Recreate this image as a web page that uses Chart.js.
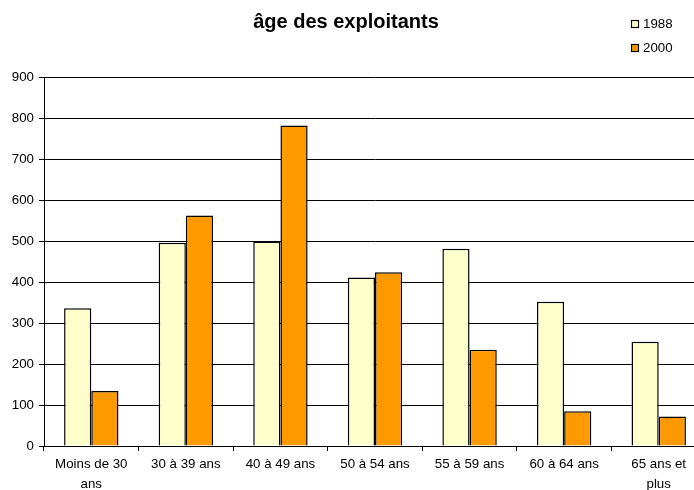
<!DOCTYPE html>
<html>
<head>
<meta charset="utf-8">
<script src="https://cdn.jsdelivr.net/npm/chart.js@4/dist/chart.umd.min.js"></script>
<style>
  html, body { margin: 0; padding: 0; background: #fff; overflow: hidden; }
  #wrap { position: relative; width: 710px; height: 490px; }
</style>
</head>
<body>
<div id="wrap"><canvas id="c" width="710" height="490"></canvas></div>
<script>
// Age groups of farm operators
const categories = [["Moins de 30", "ans"], "30 à 39 ans", "40 à 49 ans", "50 à 54 ans", "55 à 59 ans", "60 à 64 ans", ["65 ans et", "plus"]];
const seriesNames = ["1988", "2000"];
const values1988 = [336, 496, 499, 411, 481, 352, 254];
const values2000 = [134, 562, 782, 424, 235, 85, 72];
const yTicks = [0, 100, 200, 300, 400, 500, 600, 700, 800, 900];
const chartTitle = "âge des exploitants";

const FONT = "'Liberation Sans', Arial, sans-serif";

// Title and stacked legend in the upper area
const headerPlugin = {
  id: 'header',
  afterDraw(chart) {
    const ctx = chart.ctx;
    ctx.save();
    ctx.fillStyle = '#000';
    ctx.font = "bold 20px " + FONT;
    ctx.textAlign = 'center';
    ctx.textBaseline = 'middle';
    ctx.fillText(chartTitle, 346, 22);

    ctx.font = "13.3px " + FONT;
    ctx.textAlign = 'left';
    chart.data.datasets.forEach((ds, i) => {
      const y = 24 + i * 24;
      ctx.fillStyle = ds.backgroundColor;
      ctx.fillRect(631, y - 4, 8, 8);
      ctx.strokeStyle = '#000';
      ctx.lineWidth = 1.2;
      ctx.strokeRect(631.5, y - 3.5, 7, 7);
      ctx.fillStyle = '#000';
      ctx.fillText(ds.label, 643, y);
    });
    ctx.restore();
  }
};

new Chart(document.getElementById('c'), {
  type: 'bar',
  data: {
    labels: categories,
    datasets: [
      { label: seriesNames[0], data: values1988, backgroundColor: '#FFFFCC', borderColor: '#000', borderWidth: 1.5 },
      { label: seriesNames[1], data: values2000, backgroundColor: '#FF9900', borderColor: '#000', borderWidth: 1.5 }
    ]
  },
  plugins: [headerPlugin],
  options: {
    responsive: false,
    animation: false,
    devicePixelRatio: 1,
    layout: { padding: { top: 77, left: 0, right: 4, bottom: 0 } },
    datasets: { bar: { categoryPercentage: 0.575, barPercentage: 1 } },
    plugins: {
      legend: { display: false },
      title: { display: false },
      tooltip: { enabled: false }
    },
    scales: {
      x: {
        afterFit(scale) { scale.height = 44; },
        grid: { display: true, drawOnChartArea: false, drawTicks: true, tickLength: 5, color: '#000', offset: true },
        border: { display: true, color: '#000', width: 1 },
        ticks: { color: '#000', font: { family: FONT, size: 13.3, lineHeight: 1.45 }, padding: 4, maxRotation: 0, autoSkip: false }
      },
      y: {
        min: yTicks[0],
        max: yTicks[yTicks.length - 1],
        afterFit(scale) { scale.width = 44; },
        afterBuildTicks(scale) { scale.ticks = yTicks.map(v => ({ value: v })); },
        grid: { display: true, drawTicks: true, tickLength: 5, color: '#000', lineWidth: 1 },
        border: { display: true, color: '#000', width: 1 },
        ticks: { color: '#000', font: { family: FONT, size: 13.3 }, padding: 5 }
      }
    }
  }
});
</script>
</body>
</html>
